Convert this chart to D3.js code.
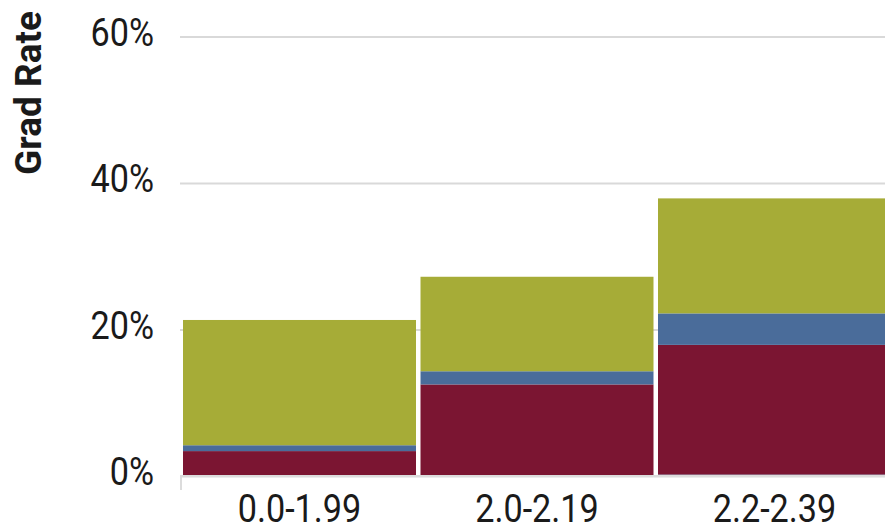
<!DOCTYPE html>
<html>
<head>
<meta charset="utf-8">
<script src="https://cdn.jsdelivr.net/npm/d3@7"></script>
<style>
  html, body { margin: 0; padding: 0; background: #fff; }
  svg { display: block; }
  text { font-family: Roboto, "Liberation Sans", sans-serif; fill: #1a1a1a; }
  .title { font-family: "Liberation Sans Narrow", "Arial Narrow", Roboto, sans-serif; }
</style>
</head>
<body>
<svg id="chart" width="885" height="525"></svg>
<script>
// ---- data ----
const categories = ["0.0-1.99", "2.0-2.19", "2.2-2.39"];
const seriesNames = ["Base", "Segment A", "Segment B", "Segment C"];
const baseValues = [0, 0, 0.2];
const segmentA = [3.4, 12.5, 17.7];
const segmentB = [0.8, 1.8, 4.3];
const segmentC = [17.1, 12.9, 15.7];
const yTicks = [0, 20, 40, 60];
const seriesColors = ["#4a6c9a", "#7b1532", "#4a6c9a", "#a6ac37"];

const rows = categories.map((c, i) => ({
  cat: c,
  "Base": baseValues[i],
  "Segment A": segmentA[i],
  "Segment B": segmentB[i],
  "Segment C": segmentC[i]
}));

const svg = d3.select("#chart");
const axisX = 180, plotRight = 885;
const fs = 38, sx = 0.9;

const y = d3.scaleLinear().domain([0, 60]).range([476, 36.5]);
const x = d3.scaleBand().domain(categories).range([183, 891]).paddingInner(0.019).paddingOuter(0);
const color = d3.scaleOrdinal().domain(seriesNames).range(seriesColors);

// gridlines
const yAxis = d3.axisLeft(y)
  .tickValues(yTicks)
  .tickSize(-(plotRight - axisX))
  .tickFormat("");

const gy = svg.append("g").attr("transform", `translate(${axisX},0)`).call(yAxis);
gy.select(".domain").remove();
gy.selectAll(".tick line").attr("stroke", "#d9d9d9").attr("stroke-width", 2);

// y labels
svg.append("g").selectAll("text")
  .data(yTicks)
  .join("text")
  .attr("transform", d => `translate(154,${y(d) - 4.5}) scale(${sx},1)`)
  .attr("text-anchor", "end")
  .attr("dy", "0.355em")
  .attr("font-size", fs)
  .text(d => d + "%");

// stacked bars
const stack = d3.stack().keys(seriesNames);
const stacked = stack(rows);

svg.append("g").selectAll("g")
  .data(stacked)
  .join("g")
  .attr("fill", d => color(d.key))
  .selectAll("rect")
  .data(d => d)
  .join("rect")
  .attr("x", d => x(d.data.cat))
  .attr("width", x.bandwidth())
  .attr("y", d => y(d[1]))
  .attr("height", d => Math.max(0, y(d[0]) - y(d[1])));

// x axis baseline + left tick
svg.append("line")
  .attr("x1", axisX).attr("x2", plotRight)
  .attr("y1", y(0)).attr("y2", y(0))
  .attr("stroke", "#dcdcdc").attr("stroke-width", 2);
svg.append("line")
  .attr("x1", axisX + 1).attr("x2", axisX + 1)
  .attr("y1", y(0) - 1).attr("y2", 490)
  .attr("stroke", "#dcdcdc").attr("stroke-width", 2);

// x labels
svg.append("g").selectAll("text")
  .data(categories)
  .join("text")
  .attr("transform", d => `translate(${x(d) + x.bandwidth() / 2},522) scale(${sx},1)`)
  .attr("text-anchor", "middle")
  .attr("font-size", fs)
  .text(d => d);

// y title
svg.append("text")
  .attr("class", "title")
  .attr("transform", "translate(41,93) rotate(-90)")
  .attr("text-anchor", "middle")
  .attr("font-size", 37)
  .attr("font-weight", "bold")
  .text("Grad Rate");
</script>
</body>
</html>
